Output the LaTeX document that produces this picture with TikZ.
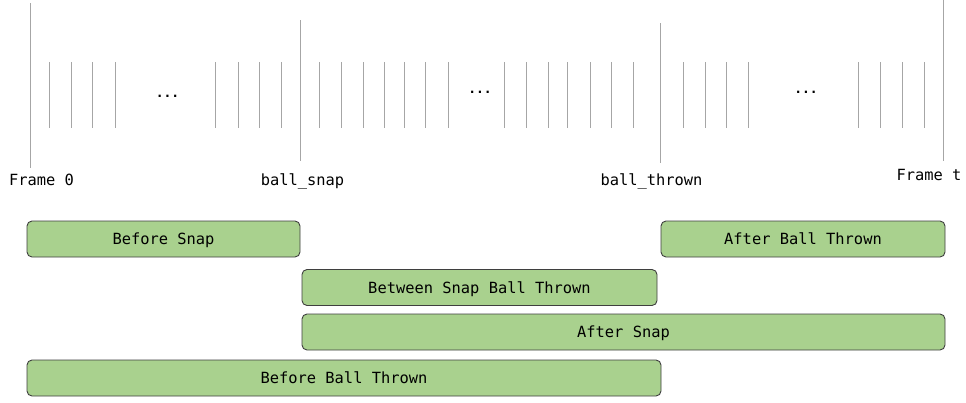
\documentclass[tikz,border=0pt]{standalone}
\usepackage{fontspec}
\setmonofont{DejaVu Sans Mono}
\definecolor{boxfill}{HTML}{A9D18E}
\definecolor{boxline}{HTML}{3F3F3F}
\definecolor{tickc}{HTML}{A6A6A6}
\begin{document}
\begin{tikzpicture}[x=1pt,y=-1pt,
  lbl/.style={font=\ttfamily\fontsize{15.4}{18}\selectfont, inner sep=0pt, anchor=base},
  period/.style={draw=boxline, fill=boxfill, line width=0.9pt, rounded corners=5pt,
    font=\ttfamily\fontsize{15.4}{18}\selectfont, text height=11.2pt, text depth=0pt,
    inner sep=0pt, minimum height=36pt},
  tick/.style={draw=tickc, line width=1pt},
  dots/.style={font=\ttfamily\bfseries\fontsize{13}{16}\selectfont, inner sep=0pt}]
\useasboundingbox (0,0) rectangle (966,402);
% main frame markers
\coordinate (f0a) at (30,3);   \coordinate (f0b) at (30,168);
\coordinate (sna) at (300,20); \coordinate (snb) at (300,161);
\coordinate (tha) at (660,23); \coordinate (thb) at (660,163);
\coordinate (fta) at (943,0);  \coordinate (ftb) at (943,161);
\draw[tick] (f0a) -- (f0b);
\draw[tick] (sna) -- (snb);
\draw[tick] (tha) -- (thb);
\draw[tick] (fta) -- (ftb);
% small ticks
\foreach \x in {49,71,92,115,215,238,259,281,
                319,341,363,384,404,425,448,504,526,548,567,590,611,633,
                683,705,726,748,858,880,902,924}
  \draw[tick] (\x,62) -- (\x,128);
% ellipses
\node[dots] (d1) at (167.5,96.5) {...};
\node[dots] (d2) at (480,92.5) {...};
\node[dots] (d3) at (806,92) {...};
% labels
\node[lbl] (l0) at (41.5,185) {Frame 0};
\node[lbl] (ls) at (302.5,185) {ball\_snap};
\node[lbl] (lt) at (651.5,185) {ball\_thrown};
\node[lbl] (lf) at (929,180) {Frame t};
% periods
\node[period, minimum width=273pt] (bs)  at (163.5,239) {Before Snap};
\node[period, minimum width=284pt] (abt) at (803,239) {After Ball Thrown};
\node[period, minimum width=355pt] (bsbt) at (479.5,287.5) {Between Snap Ball Thrown};
\node[period, minimum width=643pt] (as)  at (623.5,332) {After Snap};
\node[period, minimum width=634pt] (bbt) at (344,378) {Before Ball Thrown};
\end{tikzpicture}
\end{document}
